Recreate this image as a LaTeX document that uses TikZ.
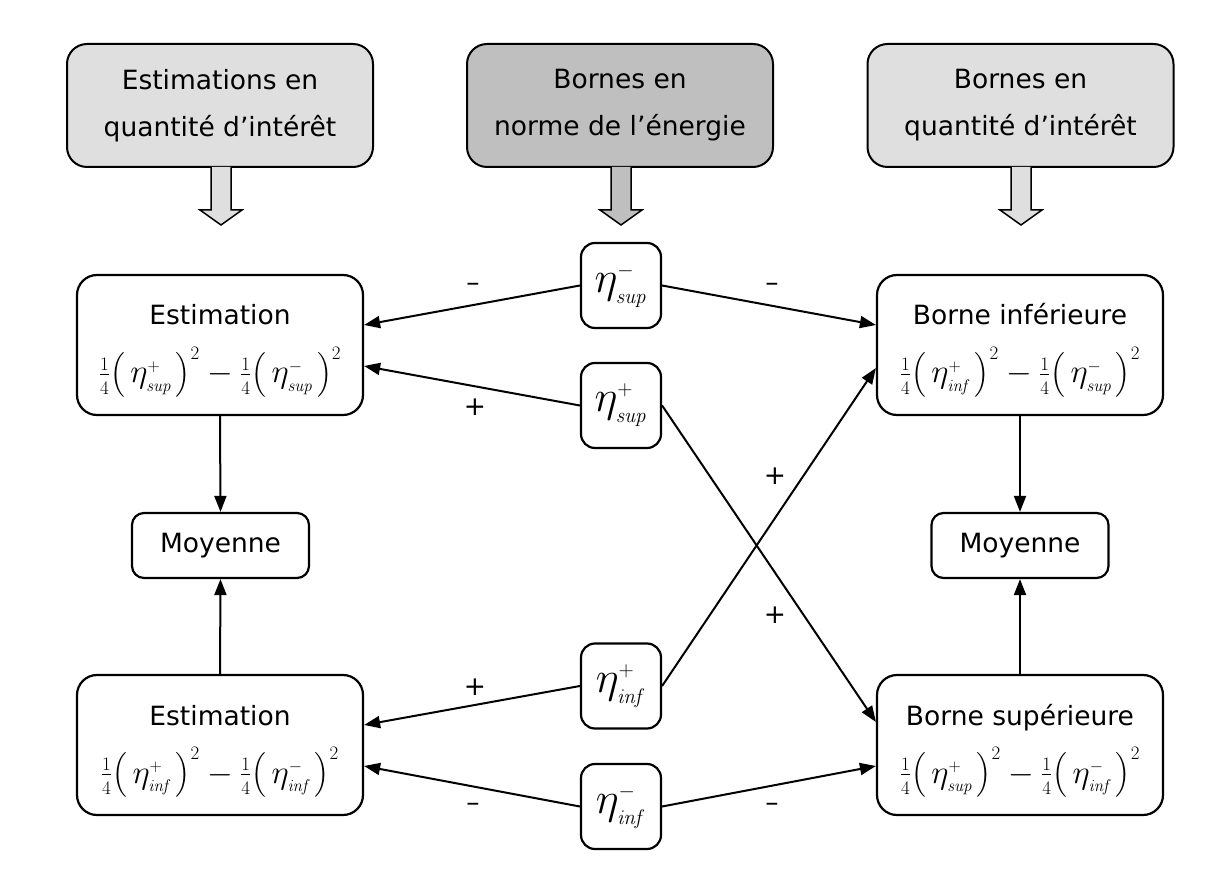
\RequirePackage{fix-cm}
\documentclass[tikz,border=0pt]{standalone}
\usepackage[no-math]{fontspec}
\setmainfont{DejaVu Sans}
\usepackage{amsmath}
\usetikzlibrary{arrows.meta}
\DeclareMathSizes{33}{33}{19}{17}
\DeclareMathSizes{44}{44}{26}{21}
\newcommand{\myeta}[2]{\eta^{\scriptscriptstyle #1}_{\scriptscriptstyle\mathit{#2}}}
\newcommand{\myform}[2]{$\tfrac{1}{4}\bigl(\mkern3mu\myeta{+}{#1}\mkern2mu\bigr)^{2}-\tfrac{1}{4}\bigl(\mkern3mu\myeta{-}{#2}\mkern2mu\bigr)^{2}$}
\definecolor{lightbox}{gray}{0.875}
\definecolor{midbox}{gray}{0.75}
\begin{document}
\begin{tikzpicture}[x=1pt,y=-1pt,
 topbox/.style={draw, line width=2pt, rounded corners=20pt, minimum width=306pt, minimum height=123pt, inner sep=0pt, align=center, font=\fontsize{26.5}{30}\selectfont},
 bigbox/.style={draw, line width=2.2pt, rounded corners=20pt, minimum width=286pt, minimum height=140pt, inner sep=0pt},
 etabox/.style={draw, line width=2.2pt, rounded corners=14pt, minimum width=80pt, minimum height=85pt, inner sep=0pt, font=\fontsize{44}{40}\selectfont},
 moybox/.style={draw, line width=2.2pt, rounded corners=12pt, minimum width=177pt, minimum height=65pt, inner sep=0pt, font=\fontsize{26.5}{30}\selectfont},
 txt/.style={inner sep=0pt, anchor=base, font=\fontsize{26.5}{30}\selectfont},
 formula/.style={inner sep=0pt, anchor=base, font=\fontsize{33}{30}\selectfont},
 conn/.style={line width=2pt, -{Triangle[length=16pt,width=12pt]}},
 sign/.style={inner sep=0pt, font=\fontsize{26.5}{30}\selectfont},
 blockarrow/.style={draw, line width=1.5pt, fill=#1}]
\useasboundingbox (0,0) rectangle (1232,874);

% top boxes
\node[topbox, fill=lightbox] (t1) at (220,105.5) {Estimations en\\[17pt]quantité d’intérêt};
\node[topbox, fill=midbox] (t2) at (620,105.5) {Bornes en\\[17pt]norme de l’énergie};
\node[topbox, fill=lightbox] (t3) at (1020.5,105.5) {Bornes en\\[17pt]quantité d’intérêt};

% block arrows
\foreach \cx/\col in {221/lightbox, 621/midbox, 1021/lightbox}{
  \filldraw[blockarrow=\col] (\cx-10,167) -- (\cx-10,210) -- (\cx-21,210) -- (\cx,225) -- (\cx+21,210) -- (\cx+10,210) -- (\cx+10,167);
}

% main boxes
\node[bigbox] (est1) at (220,345) {};
\node[txt] (est1a) at ([yshift=20pt]est1.center) {Estimation};
\node[formula] (est1b) at ([yshift=-38pt]est1.center) {\myform{sup}{sup}};

\node[bigbox] (binf) at (1020,345) {};
\node[txt] (binfa) at ([yshift=20pt]binf.center) {Borne inférieure};
\node[formula] (binfb) at ([yshift=-38pt]binf.center) {\myform{inf}{sup}};

\node[bigbox] (est2) at (220,745) {};
\node[txt] (est2a) at ([yshift=20pt]est2.center) {Estimation};
\node[formula] (est2b) at ([yshift=-38pt]est2.center) {\myform{inf}{inf}};

\node[bigbox] (bsup) at (1020,745) {};
\node[txt] (bsupa) at ([yshift=20pt]bsup.center) {Borne supérieure};
\node[formula] (bsupb) at ([yshift=-38pt]bsup.center) {\myform{sup}{inf}};

\node[moybox] (moy1) at (220.5,545.5) {Moyenne};
\node[moybox] (moy2) at (1020,545.5) {Moyenne};

% eta boxes
\node[etabox] (e1) at (621,285.5) {$\myeta{-}{sup}$};
\node[etabox] (e2) at (621,405.5) {$\myeta{+}{sup}$};
\node[etabox] (e3) at (621,686) {$\myeta{+}{inf}$};
\node[etabox] (e4) at (621,806.5) {$\myeta{-}{inf}$};

% connectors
\draw[conn] (e1.west) -- ([yshift=20pt]est1.east);
\draw[conn] (e2.west) -- ([yshift=-21pt]est1.east);
\draw[conn] (e3.west) -- ([yshift=20pt]est2.east);
\draw[conn] (e4.west) -- ([yshift=-21pt]est2.east);
\draw[conn] (e1.east) -- ([yshift=20pt]binf.west);
\draw[conn] (e3.east) -- ([yshift=-23pt]binf.west);
\draw[conn] (e2.east) -- ([yshift=23pt]bsup.west);
\draw[conn] (e4.east) -- ([yshift=-21pt]bsup.west);
\draw[conn] (est1.south) -- (moy1.north);
\draw[conn] (est2.north) -- (moy1.south);
\draw[conn] (binf.south) -- (moy2.north);
\draw[conn] (bsup.north) -- (moy2.south);

% signs
\node[sign] (s1) at (473,287) {–};
\node[sign] (s2) at (772,287) {–};
\node[sign] (s3) at (475,407) {+};
\node[sign] (s4) at (775,476) {+};
\node[sign] (s5) at (775,615) {+};
\node[sign] (s6) at (475,687) {+};
\node[sign] (s7) at (473,807) {–};
\node[sign] (s8) at (772,807) {–};
\end{tikzpicture}
\end{document}
